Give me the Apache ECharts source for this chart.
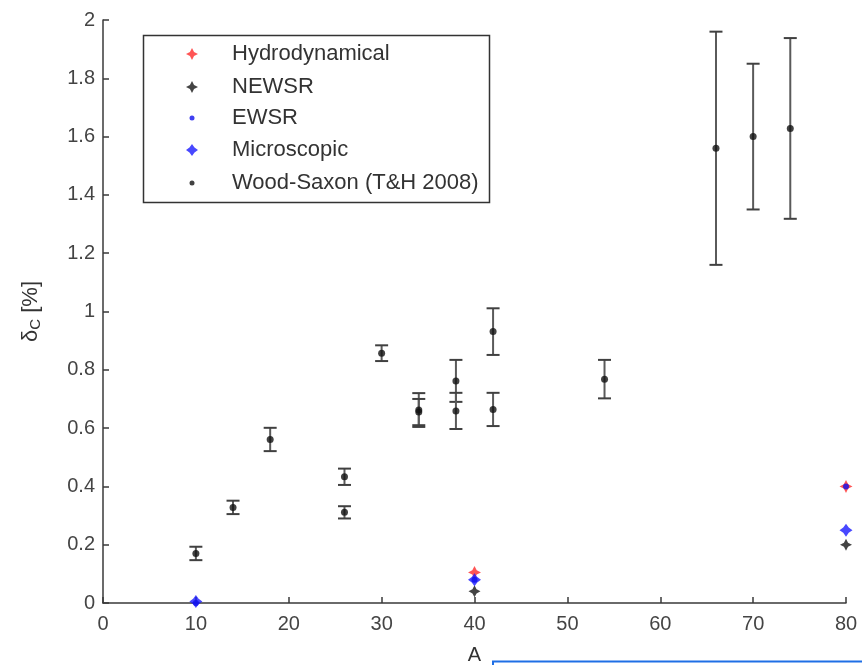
<!DOCTYPE html>
<html>
<head>
<meta charset="utf-8">
<script src="https://cdn.jsdelivr.net/npm/echarts@6/dist/echarts.min.js"></script>
<style>
  html, body { margin: 0; padding: 0; background: #fff; }
  #chart { width: 862px; height: 665px; }
</style>
</head>
<body>
<div id="chart"></div>
<script>
// Mass number A of each model point
const hydroA = [40, 80];
const hydroVal = [0.105, 0.40];

const newsrA = [40, 80];
const newsrVal = [0.04, 0.20];

const ewsrA = [10, 40, 80];
const ewsrVal = [0.0, 0.08, 0.40];

const microA = [10, 40, 80];
const microVal = [0.005, 0.08, 0.25];

// Wood-Saxon (T&H 2008) values with their uncertainties
const wsA   = [10, 14, 18, 26, 26, 30, 34, 34, 38, 38, 42, 42, 54, 66, 70, 74];
const wsVal = [0.17, 0.328, 0.561, 0.433, 0.311, 0.857, 0.662, 0.655, 0.762, 0.659, 0.931, 0.664, 0.768, 1.56, 1.60, 1.628];
const wsErr = [0.023, 0.023, 0.04, 0.028, 0.021, 0.027, 0.058, 0.045, 0.072, 0.062, 0.08, 0.057, 0.066, 0.40, 0.25, 0.31];

const seriesNames = ['Hydrodynamical', 'NEWSR', 'EWSR', 'Microscopic', 'Wood-Saxon (T&H 2008)'];

const FONT = '"Liberation Sans", Arial, sans-serif';
const STAR = 'path://M0,-10 L3.4,-3.4 L10,0 L3.4,3.4 L0,10 L-3.4,3.4 L-10,0 L-3.4,-3.4 Z';
const STAR_FAT = 'path://M0,-10 L4.2,-4.2 L10,0 L4.2,4.2 L0,10 L-4.2,4.2 L-10,0 L-4.2,-4.2 Z';

const pairs = (xs, ys) => xs.map((x, i) => [x, ys[i]]);

const chart = echarts.init(document.getElementById('chart'), null, { renderer: 'canvas' });

// one legend block per entry so every marker keeps its own size
const MARK_X = 192;   // centre of the legend markers
const TEXT_X = 232;   // start of the legend labels
const legendRows = [
  { name: seriesNames[0], icon: STAR, h: 12, cy: 56 },
  { name: seriesNames[1], icon: STAR, h: 12, cy: 89 },
  { name: seriesNames[2], icon: 'circle', h: 5, cy: 120 },
  { name: seriesNames[3], icon: STAR_FAT, h: 12, cy: 152 },
  { name: seriesNames[4], icon: 'circle', h: 5, cy: 185 }
];

const legends = legendRows.map(r => ({
  show: true,
  data: [{ name: r.name, icon: r.icon }],
  left: MARK_X - r.h / 2,
  top: r.cy - 13,
  padding: 0,
  itemWidth: r.h,
  itemHeight: r.h,
  selectedMode: false,
  textStyle: {
    fontFamily: FONT, fontSize: 22, color: '#333',
    padding: [0, 0, 0, TEXT_X - (MARK_X + r.h / 2 + 5)]
  }
}));

const axisColor = '#3a3a3a';

const option = {
  backgroundColor: '#ffffff',
  animation: false,
  grid: { left: 103, right: 16, top: 20, bottom: 62, containLabel: false, outerBoundsMode: 'none' },
  legend: legends,
  xAxis: {
    type: 'value',
    min: 0, max: 80, interval: 10,
    name: 'A',
    nameLocation: 'middle',
    nameGap: 42,
    nameTextStyle: { fontFamily: FONT, fontSize: 20, color: '#333' },
    axisLine: { show: true, onZero: false, lineStyle: { color: axisColor, width: 1.5 } },
    axisTick: { show: true, inside: true, length: 6, lineStyle: { color: axisColor, width: 1.5 } },
    axisLabel: { fontFamily: FONT, fontSize: 20, color: '#444', margin: 11 },
    splitLine: { show: false }
  },
  yAxis: {
    type: 'value',
    min: 0, max: 2, interval: 0.2,
    name: 'δ{s|C} [%]',
    nameLocation: 'middle',
    nameGap: 60,
    nameRotate: 90,
    nameTextStyle: {
      fontFamily: FONT, fontSize: 22, color: '#333',
      rich: { s: { fontFamily: FONT, fontSize: 15, color: '#333', padding: [10, 0, 0, 0] } }
    },
    axisLine: { show: true, onZero: false, lineStyle: { color: axisColor, width: 1.5 } },
    axisTick: { show: true, inside: true, length: 6, lineStyle: { color: axisColor, width: 1.5 } },
    axisLabel: { fontFamily: FONT, fontSize: 20, color: '#444', margin: 8 },
    splitLine: { show: false }
  },
  series: [
    {
      name: 'errorbars',
      type: 'custom',
      data: wsA.map((a, i) => [a, wsVal[i] - wsErr[i], wsVal[i] + wsErr[i]]),
      renderItem: function (params, api) {
        const x = api.value(0);
        const lo = api.coord([x, api.value(1)]);
        const hi = api.coord([x, api.value(2)]);
        const hw = 6.5;
        const bar = { stroke: '#5a5a5a', lineWidth: 2 };
        const cap = { stroke: '#404040', lineWidth: 2 };
        return {
          type: 'group',
          children: [
            { type: 'line', shape: { x1: hi[0], y1: hi[1], x2: lo[0], y2: lo[1] }, style: bar },
            { type: 'line', shape: { x1: hi[0] - hw, y1: hi[1], x2: hi[0] + hw, y2: hi[1] }, style: cap },
            { type: 'line', shape: { x1: lo[0] - hw, y1: lo[1], x2: lo[0] + hw, y2: lo[1] }, style: cap }
          ]
        };
      },
      z: 2,
      silent: true
    },
    {
      name: seriesNames[0],
      type: 'scatter',
      symbol: STAR,
      symbolSize: 13,
      itemStyle: { color: '#ff2a2a' },
      data: pairs(hydroA, hydroVal),
      z: 3
    },
    {
      name: seriesNames[1],
      type: 'scatter',
      symbol: STAR,
      symbolSize: 12,
      itemStyle: { color: '#151515' },
      data: pairs(newsrA, newsrVal),
      z: 3
    },
    {
      name: seriesNames[2],
      type: 'scatter',
      symbol: 'circle',
      symbolSize: 6,
      itemStyle: { color: '#1010ee' },
      data: pairs(ewsrA, ewsrVal),
      z: 5
    },
    {
      name: seriesNames[3],
      type: 'scatter',
      symbol: STAR_FAT,
      symbolSize: 13,
      itemStyle: { color: '#1a1aff' },
      data: pairs(microA, microVal),
      z: 4
    },
    {
      name: seriesNames[4],
      type: 'scatter',
      symbol: 'circle',
      symbolSize: 7,
      itemStyle: { color: '#111' },
      data: pairs(wsA, wsVal),
      z: 4
    }
  ],
  graphic: [
    {
      type: 'rect',
      shape: { x: 143.5, y: 35.5, width: 346, height: 167 },
      style: { fill: 'none', stroke: '#333', lineWidth: 1.5 },
      z: 10,
      silent: true
    },
    {
      type: 'rect',
      shape: { x: 493, y: 661.5, width: 400, height: 30 },
      style: { fill: 'none', stroke: '#1f6fe5', lineWidth: 2 },
      z: 10,
      silent: true
    }
  ]
};

chart.setOption(option);
</script>
</body>
</html>
